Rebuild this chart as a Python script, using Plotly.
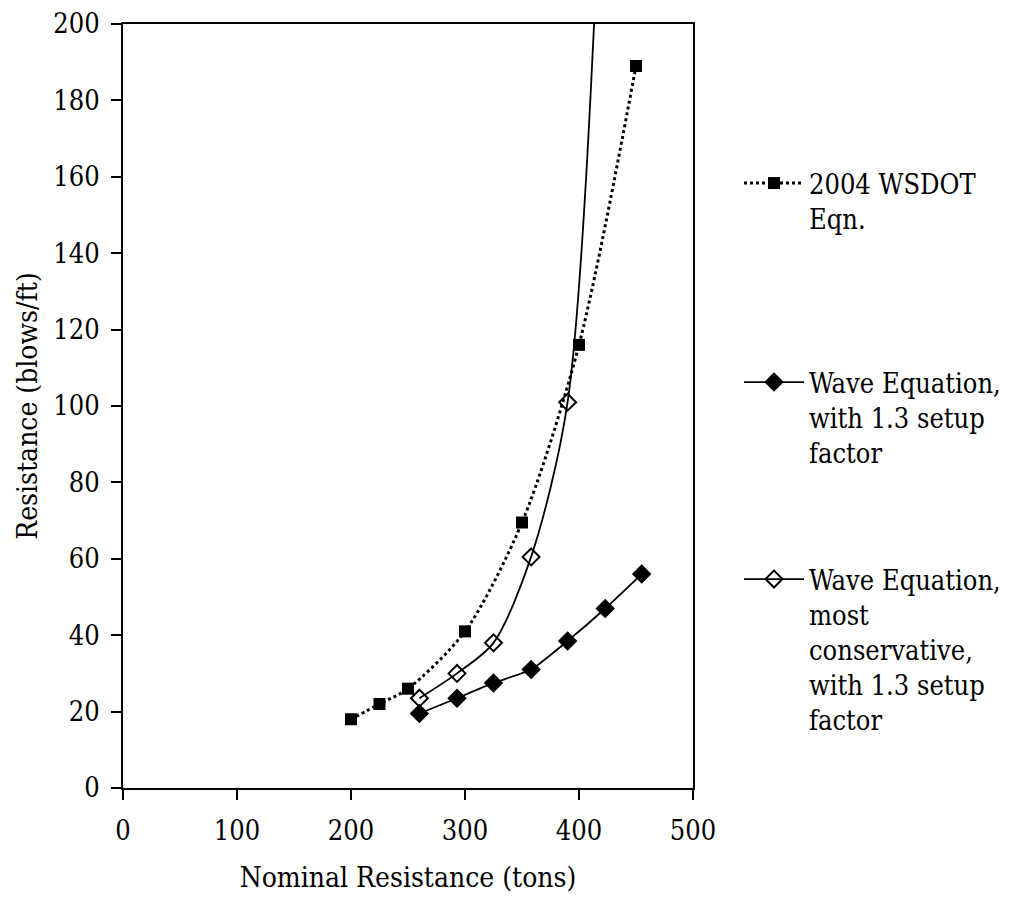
import plotly.graph_objects as go

# --- data ---
wsdot_x = [200, 225, 250, 300, 350, 400, 450]
wsdot_y = [18, 22, 26, 41, 69.5, 116, 189]

wave_x = [260, 293, 325, 358, 390, 423, 455]
wave_y = [19.5, 23.5, 27.5, 31, 38.5, 47, 56]

cons_x = [260, 293, 325, 358, 390, 423, 455]
cons_y = [23.5, 30, 38, 60.5, 101, 265, 600]  # last two lie above the axis range (estimated)

x_ticks = [0, 100, 200, 300, 400, 500]
y_ticks = [0, 20, 40, 60, 80, 100, 120, 140, 160, 180, 200]

names = ["2004 WSDOT<br>Eqn.",
         "Wave Equation,<br>with 1.3 setup<br>factor",
         "Wave Equation,<br>most<br>conservative,<br>with 1.3 setup<br>factor"]

FONT = "DejaVu Serif Condensed"
FS = 28
TFS = 27
LFS = 27

fig = go.Figure()
fig.add_trace(go.Scatter(
    x=wsdot_x, y=wsdot_y, name=names[0], mode="lines+markers",
    line=dict(color="black", width=3, dash="dot", shape="spline", smoothing=0.8),
    marker=dict(symbol="square", size=12, color="black"),
    legend="legend"))
fig.add_trace(go.Scatter(
    x=wave_x, y=wave_y, name=names[1], mode="lines+markers",
    line=dict(color="black", width=1.8, shape="spline", smoothing=0.5),
    marker=dict(symbol="diamond", size=15, color="black"),
    legend="legend2"))
fig.add_trace(go.Scatter(
    x=cons_x, y=cons_y, name=names[2], mode="lines+markers",
    line=dict(color="black", width=1.8, shape="spline", smoothing=0.8),
    marker=dict(symbol="diamond-open", size=13, color="black", line=dict(width=2)),
    legend="legend3"))

# page has an 8px body margin; offsets below are in figure pixels
L, R, T, B = 115, 324, 16, 120
W, H = 1009, 900
pw, ph = W - L - R, H - T - B
OFF = 8

def py(p):
    return 1 - (p - OFF - T) / ph

def px(p):
    return (p - OFF - L) / pw

leg_common = dict(bgcolor="rgba(0,0,0,0)", xanchor="left", yanchor="top",
                  valign="top", itemwidth=60, tracegroupgap=0,
                  font=dict(family=FONT, size=LFS, color="black"))

fig.update_layout(
    width=W, height=H,
    margin=dict(l=L, r=R, t=T, b=B, autoexpand=False),
    paper_bgcolor="white", plot_bgcolor="white",
    font=dict(family=FONT, size=FS, color="black"),
    showlegend=True,
    legend=dict(x=px(739), y=py(159), **leg_common),
    legend2=dict(x=px(739), y=py(358), **leg_common),
    legend3=dict(x=px(739), y=py(555), **leg_common),
    xaxis=dict(range=[0, 500], tickvals=x_ticks, ticks="outside", ticklen=10,
               tickwidth=1.5, tickcolor="black", showline=True, linecolor="black",
               linewidth=2, mirror=True, showgrid=False, zeroline=False,
               ticklabelstandoff=8, automargin=False, ticklabeloverflow="allow",
               tickfont=dict(family=FONT, size=TFS),
               title=dict(text="Nominal Resistance (tons)", standoff=22,
                          font=dict(family=FONT, size=FS))),
    yaxis=dict(range=[0, 200], tickvals=y_ticks, ticks="outside", ticklen=10,
               tickwidth=1.5, tickcolor="black", showline=True, linecolor="black",
               linewidth=2, mirror=True, showgrid=False, zeroline=False,
               ticklabelstandoff=6, automargin=False, ticklabeloverflow="allow",
               tickfont=dict(family=FONT, size=TFS),
               title=dict(text="Resistance (blows/ft)", standoff=7,
                          font=dict(family=FONT, size=FS))),
)

fig.write_html("out.html")
